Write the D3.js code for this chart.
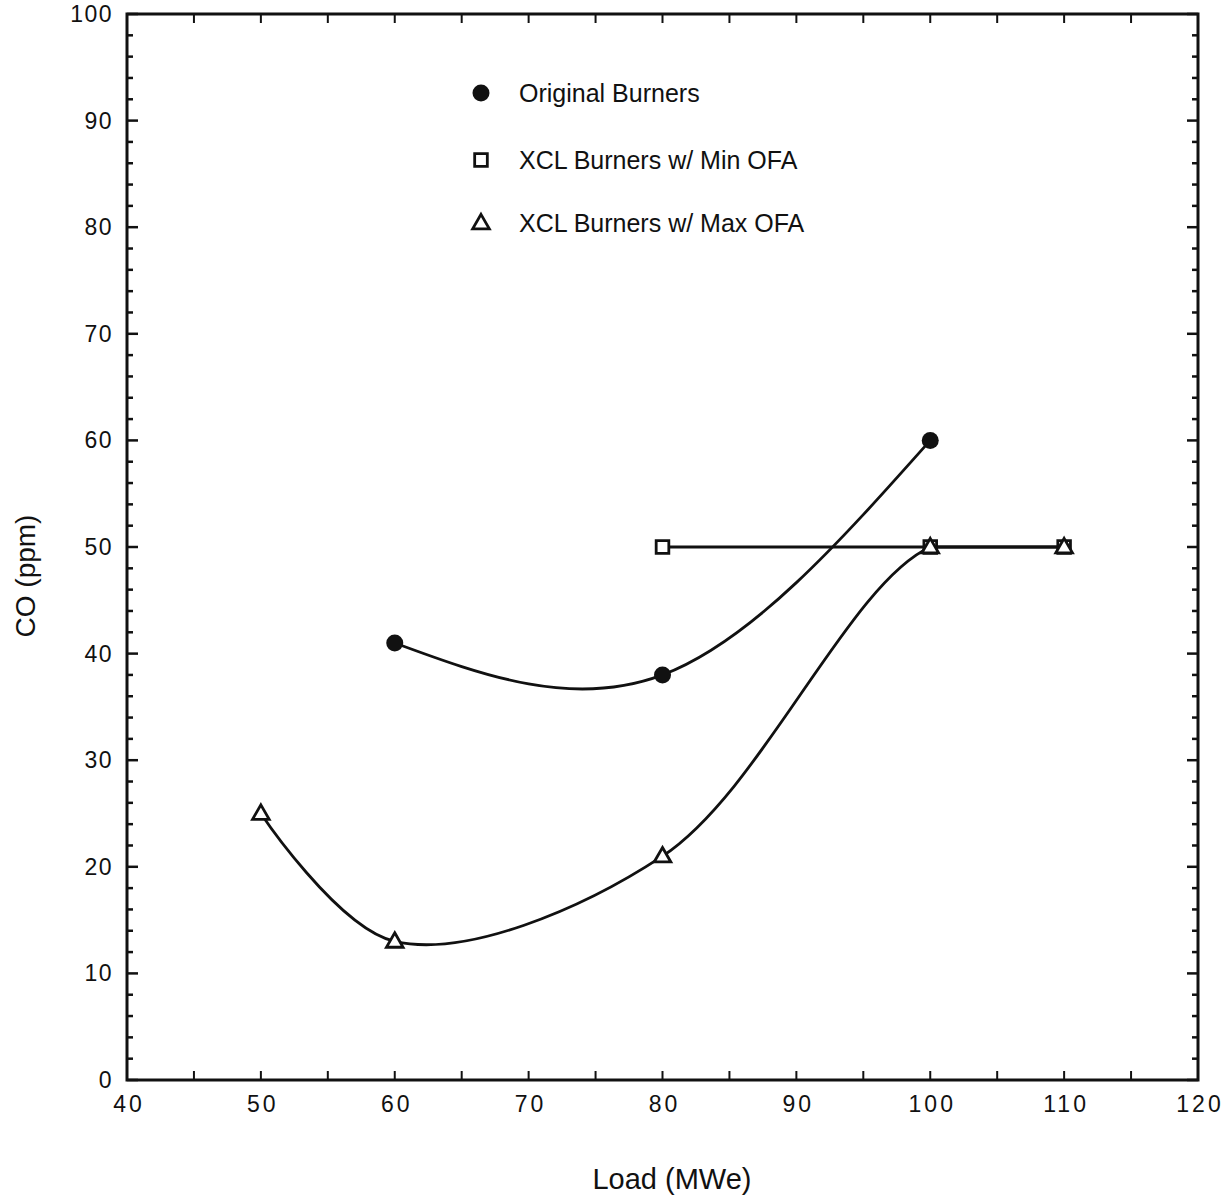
<!DOCTYPE html>
<html>
<head>
<meta charset="utf-8">
<script src="https://cdn.jsdelivr.net/npm/d3@7"></script>
<style>
  body { margin: 0; background: #fff; }
  text { font-family: "Liberation Sans", Arial, sans-serif; fill: #111; }
</style>
</head>
<body>
<div id="chart"></div>
<script>
// data
const originalLoad = [60, 80, 100];
const originalCO = [41, 38, 60];
const minOfaLoad = [80, 100, 110];
const minOfaCO = [50, 50, 50];
const maxOfaLoad = [50, 60, 80, 100, 110];
const maxOfaCO = [25, 13, 21, 50, 50];
const xTicks = [40, 50, 60, 70, 80, 90, 100, 110, 120];
const yTicks = [0, 10, 20, 30, 40, 50, 60, 70, 80, 90, 100];
const legendLabels = ["Original Burners", "XCL Burners w/ Min OFA", "XCL Burners w/ Max OFA"];

const width = 1232, height = 1201;
const margin = { top: 14, right: 34, bottom: 121, left: 127 };

const svg = d3.select("#chart").append("svg")
    .attr("width", width)
    .attr("height", height);

const x = d3.scaleLinear().domain([40, 120]).range([margin.left, width - margin.right]);
const y = d3.scaleLinear().domain([0, 100]).range([height - margin.bottom, margin.top]);

const ink = "#111";

// frame
svg.append("rect")
    .attr("x", x(40)).attr("y", y(100))
    .attr("width", x(120) - x(40)).attr("height", y(0) - y(100))
    .attr("fill", "none").attr("stroke", ink).attr("stroke-width", 3);

// y ticks: major every 10, minor every 2, both sides, pointing inwards
const tickG = svg.append("g").attr("stroke", ink);
d3.range(0, 101, 2).forEach(v => {
    const len = v % 10 === 0 ? 11 : 6;
    tickG.append("line").attr("x1", x(40)).attr("x2", x(40) + len)
        .attr("y1", y(v)).attr("y2", y(v)).attr("stroke-width", 2.5);
    tickG.append("line").attr("x1", x(120)).attr("x2", x(120) - len)
        .attr("y1", y(v)).attr("y2", y(v)).attr("stroke-width", 2.5);
});

// x ticks every 5
d3.range(40, 121, 5).forEach(v => {
    tickG.append("line").attr("x1", x(v)).attr("x2", x(v))
        .attr("y1", y(0)).attr("y2", y(0) - 9).attr("stroke-width", 2);
    tickG.append("line").attr("x1", x(v)).attr("x2", x(v))
        .attr("y1", y(100)).attr("y2", y(100) + 9).attr("stroke-width", 2);
});

// tick labels
svg.append("g").selectAll("text")
    .data(yTicks).enter().append("text")
    .attr("x", x(40) - 14)
    .attr("y", d => y(d))
    .attr("dy", "0.35em")
    .attr("text-anchor", "end")
    .style("font-size", "23px")
    .style("letter-spacing", "1.5px")
    .text(d => d);

svg.append("g").selectAll("text")
    .data(xTicks).enter().append("text")
    .attr("x", d => x(d) + 2)
    .attr("y", y(0) + 32)
    .attr("text-anchor", "middle")
    .style("font-size", "23px")
    .style("letter-spacing", "3px")
    .text(d => d);

// axis titles
svg.append("text")
    .attr("transform", `translate(35,576) rotate(-90)`)
    .attr("text-anchor", "middle")
    .style("font-size", "28px")
    .text("CO (ppm)");

svg.append("text")
    .attr("x", 672).attr("y", 1189)
    .attr("text-anchor", "middle")
    .style("font-size", "29px")
    .text("Load (MWe)");

// series
const zip = (xs, ys) => xs.map((d, i) => ({ x: d, y: ys[i] }));
const original = zip(originalLoad, originalCO);
const minOfa = zip(minOfaLoad, minOfaCO);
const maxOfa = zip(maxOfaLoad, maxOfaCO);

const smooth = d3.line().x(d => x(d.x)).y(d => y(d.y)).curve(d3.curveNatural);
const catmull = d3.line().x(d => x(d.x)).y(d => y(d.y)).curve(d3.curveCatmullRom.alpha(0.5));
const straight = d3.line().x(d => x(d.x)).y(d => y(d.y));

// the spline of max OFA is only kept up to 100 MWe, after that it runs flat
svg.append("clipPath").attr("id", "upTo100")
    .append("rect")
    .attr("x", x(40)).attr("y", y(100))
    .attr("width", x(100) - x(40)).attr("height", y(0) - y(100));

const lines = svg.append("g").attr("fill", "none").attr("stroke", ink).attr("stroke-width", 2.8);
lines.append("path").attr("d", smooth(original));
lines.append("path").attr("d", straight(minOfa));
lines.append("path").attr("d", catmull(maxOfa)).attr("clip-path", "url(#upTo100)");
lines.append("path").attr("d", straight(maxOfa.slice(3)));

const sq = d3.symbol().type(d3.symbolSquare).size(160);
const tri = d3.symbol().type(d3.symbolTriangle).size(120);

const marks = svg.append("g");
marks.selectAll(".orig").data(original).enter().append("circle")
    .attr("cx", d => x(d.x)).attr("cy", d => y(d.y)).attr("r", 8.5).attr("fill", ink);
marks.selectAll(".min").data(minOfa).enter().append("path")
    .attr("d", sq).attr("transform", d => `translate(${x(d.x)},${y(d.y)})`)
    .attr("fill", "#fff").attr("stroke", ink).attr("stroke-width", 2.8);
marks.selectAll(".max").data(maxOfa).enter().append("path")
    .attr("d", tri).attr("transform", d => `translate(${x(d.x)},${y(d.y) + 1})`)
    .attr("fill", "#fff").attr("stroke", ink).attr("stroke-width", 2.8);

// legend
const legend = svg.append("g").attr("transform", "translate(481,93)");
const rows = [0, 67, 130];
legend.append("circle").attr("cx", 0).attr("cy", rows[0]).attr("r", 8.5).attr("fill", ink);
legend.append("path").attr("d", sq).attr("transform", `translate(0,${rows[1]})`)
    .attr("fill", "#fff").attr("stroke", ink).attr("stroke-width", 2.8);
legend.append("path").attr("d", tri).attr("transform", `translate(0,${rows[2] + 1})`)
    .attr("fill", "#fff").attr("stroke", ink).attr("stroke-width", 2.8);
legend.selectAll("text").data(legendLabels).enter().append("text")
    .attr("x", 38).attr("y", (d, i) => rows[i])
    .attr("dy", "0.35em")
    .style("font-size", "25px")
    .text(d => d);
</script>
</body>
</html>
